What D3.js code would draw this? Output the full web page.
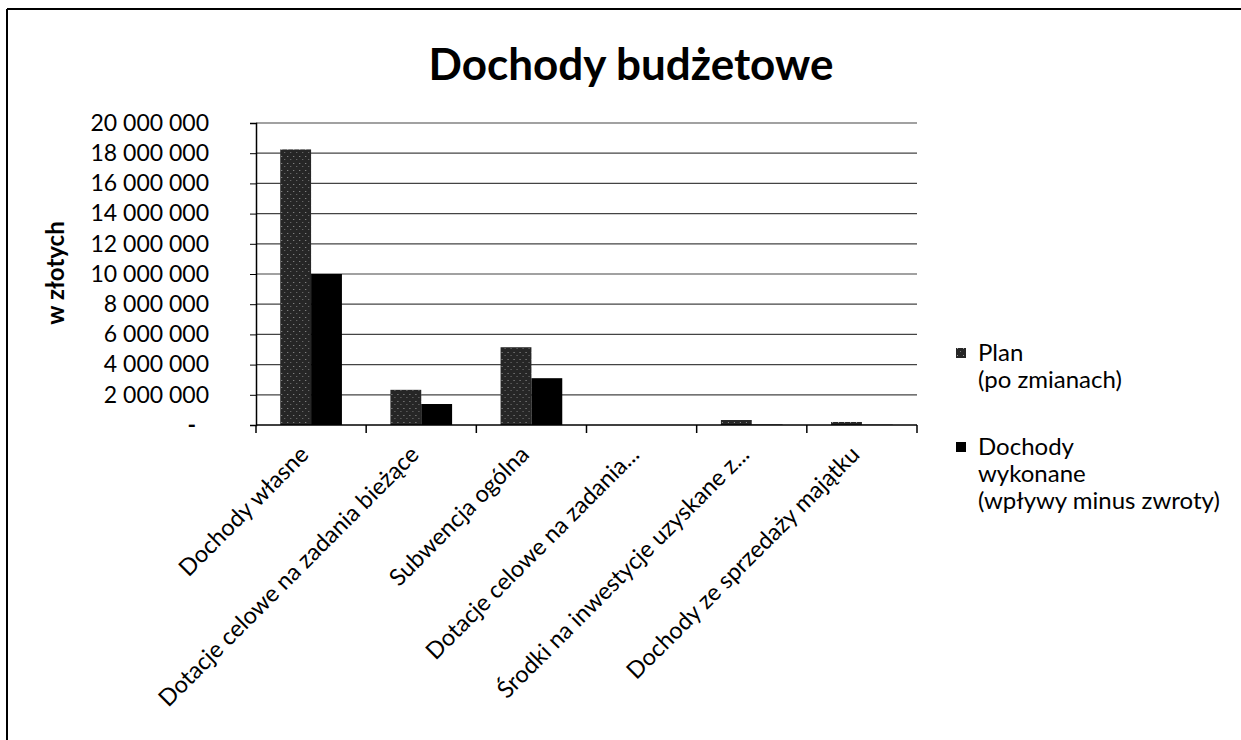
<!DOCTYPE html>
<html>
<head>
<meta charset="utf-8">
<script src="https://cdn.jsdelivr.net/npm/d3@7"></script>
<style>
  body { margin: 0; background: #fff; }
  svg { display: block; font-family: Lato, "Open Sans", sans-serif; }
</style>
</head>
<body>
<svg width="1241" height="740"></svg>
<script>
// categories and values
var categories = ['Dochody własne', 'Dotacje celowe na zadania bieżące', 'Subwencja ogólna',
                  'Dotacje celowe na zadania...', 'Środki na inwestycje uzyskane z...', 'Dochody ze sprzedaży majątku']
var planValues = [18250000, 2330000, 5150000, 0, 330000, 200000]
var wykonaneValues = [10000000, 1390000, 3100000, 0, 30000, 20000]
var seriesNames = ['Plan', 'Wykonane']
var legendLines = [['Plan', '(po zmianach)'], ['Dochody', 'wykonane', '(wpływy minus zwroty)']]
var yTicks = [0, 2000000, 4000000, 6000000, 8000000, 10000000, 12000000, 14000000, 16000000, 18000000, 20000000]

var rows = categories.map(function(c, i) {
  return { cat: c, Plan: planValues[i], Wykonane: wykonaneValues[i] }
})

var svg = d3.select('svg')
var plotLeft = 256, plotRight = 917, plotTop = 123, plotBottom = 425

// frame of the scanned page
svg.append('line').attr('x1', 7).attr('x2', 7).attr('y1', 9).attr('y2', 740)
   .attr('stroke', '#000').attr('stroke-width', 2)
svg.append('line').attr('x1', 7).attr('x2', 1241).attr('y1', 9).attr('y2', 9)
   .attr('stroke', '#000').attr('stroke-width', 2)

// speckled dark fill for the plan series
var defs = svg.append('defs')
var pat = defs.append('pattern').attr('id', 'speckle').attr('width', 6).attr('height', 7)
              .attr('patternUnits', 'userSpaceOnUse')
pat.append('rect').attr('width', 6).attr('height', 7).attr('fill', '#262626')
pat.append('rect').attr('x', 1).attr('y', 2).attr('width', 1).attr('height', 1).attr('fill', '#9a9a9a')
pat.append('rect').attr('x', 4).attr('y', 5).attr('width', 1).attr('height', 1).attr('fill', '#777')

var colors = { Plan: 'url(#speckle)', Wykonane: '#000' }

var x0 = d3.scaleBand().domain(categories).range([plotLeft, plotRight]).paddingInner(0.44).paddingOuter(0.22)
var x1 = d3.scaleBand().domain(seriesNames).range([0, x0.bandwidth()])
var y = d3.scaleLinear().domain([0, 20000000]).range([plotBottom, plotTop])

// gridlines
svg.append('g').selectAll('line').data(yTicks.slice(1)).enter().append('line')
   .attr('x1', plotLeft).attr('x2', plotRight)
   .attr('y1', function(d) { return y(d) }).attr('y2', function(d) { return y(d) })
   .attr('stroke', '#444').attr('stroke-width', 1.2)

// bars
svg.append('g').selectAll('g').data(rows).enter().append('g')
   .attr('transform', function(d) { return 'translate(' + x0(d.cat) + ',0)' })
   .selectAll('rect')
   .data(function(d) { return seriesNames.map(function(s) { return { s: s, v: d[s] } }) })
   .enter().append('rect')
   .attr('x', function(d) { return x1(d.s) })
   .attr('width', x1.bandwidth())
   .attr('y', function(d) { return y(d.v) })
   .attr('height', function(d) { return plotBottom - y(d.v) })
   .attr('fill', function(d) { return colors[d.s] })

// y axis
var fmt = function(d) { return d === 0 ? '-' : d3.format(',')(d).replace(/,/g, ' ') }
var yAxis = d3.axisLeft(y).tickValues(yTicks).tickFormat(fmt).tickSize(6).tickPadding(41)
var gy = svg.append('g').attr('transform', 'translate(' + plotLeft + ',0)').call(yAxis)
gy.select('.domain').attr('stroke', '#000').attr('stroke-width', 1.5)
gy.selectAll('.tick line').attr('stroke', '#000')
gy.selectAll('.tick text').attr('font-size', 23).attr('fill', '#000')
  .attr('font-family', 'Lato, sans-serif')
gy.selectAll('.tick').filter(function(d) { return d === 0 }).select('text')
  .attr('x', -60).attr('font-weight', 'bold')

// x axis line and category ticks
var boundaries = categories.map(function(c) { return x0(c) - x0.step() * x0.paddingOuter() })
boundaries.push(plotRight)
svg.append('line').attr('x1', plotLeft).attr('x2', plotRight).attr('y1', plotBottom).attr('y2', plotBottom)
   .attr('stroke', '#000').attr('stroke-width', 1.5)
svg.append('g').selectAll('line').data(boundaries).enter().append('line')
   .attr('x1', function(d) { return d }).attr('x2', function(d) { return d })
   .attr('y1', plotBottom).attr('y2', plotBottom + 8)
   .attr('stroke', '#000').attr('stroke-width', 1.5)

// rotated category labels
svg.append('g').selectAll('text').data(categories).enter().append('text')
   .attr('transform', function(d) {
     return 'translate(' + (x0(d) + x0.bandwidth() / 2 - 1) + ',' + (plotBottom + 31) + ') rotate(-45)'
   })
   .attr('text-anchor', 'end')
   .attr('font-size', 23.5)
   .text(function(d) { return d })

// y title
svg.append('text')
   .attr('transform', 'translate(64,273) rotate(-90)')
   .attr('text-anchor', 'middle')
   .attr('font-size', 24).attr('font-weight', 'bold')
   .text('w złotych')

// chart title
svg.append('text')
   .attr('x', 631).attr('y', 80)
   .attr('text-anchor', 'middle')
   .attr('font-size', 44).attr('font-weight', 'bold')
   .text('Dochody budżetowe')

// legend
var legendY = [353, 447]
legendLines.forEach(function(lines, i) {
  var g = svg.append('g').attr('transform', 'translate(956,' + legendY[i] + ')')
  g.append('rect').attr('x', 0).attr('y', -5).attr('width', 10).attr('height', 10)
   .attr('fill', colors[seriesNames[i]])
  g.selectAll('text').data(lines).enter().append('text')
   .attr('x', 22)
   .attr('y', function(d, j) { return j * 27 + 8 })
   .attr('font-size', 24)
   .text(function(d) { return d })
})
</script>
</body>
</html>
